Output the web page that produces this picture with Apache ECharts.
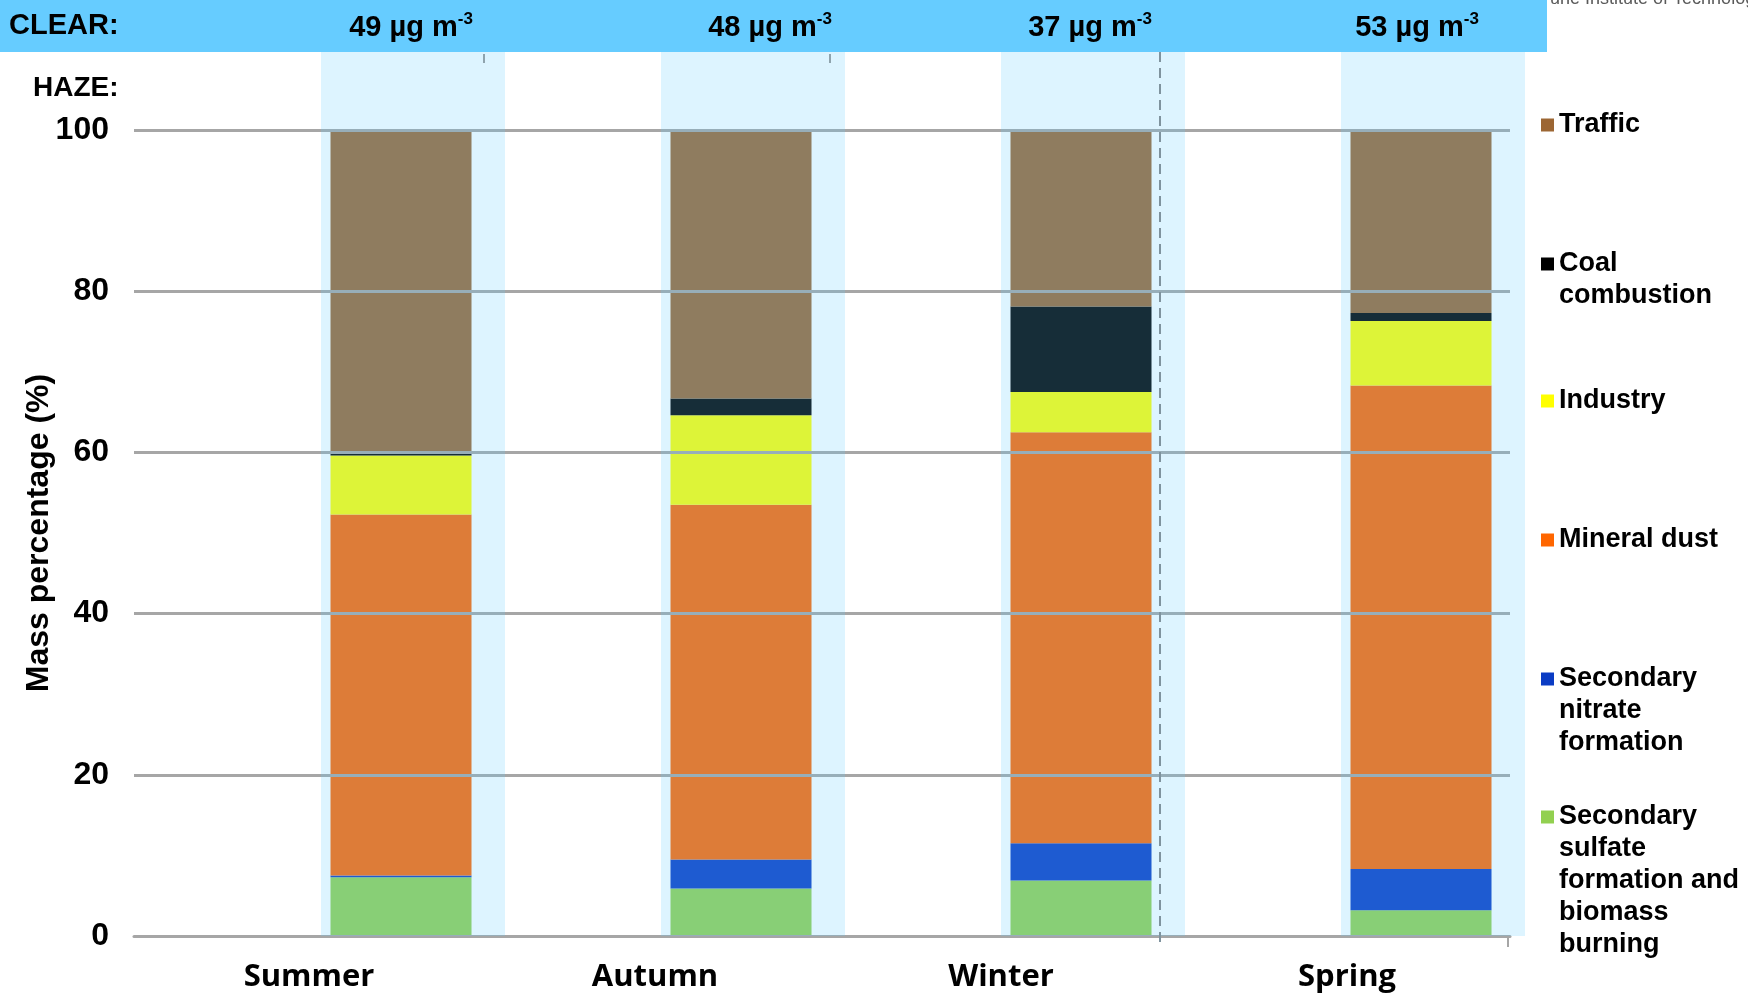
<!DOCTYPE html>
<html>
<head>
<meta charset="utf-8">
<script src="https://cdn.jsdelivr.net/npm/echarts@6/dist/echarts.min.js"></script>
<style>
  html, body { margin: 0; padding: 0; background: #ffffff; }
  #chart { width: 1748px; height: 995px; }
</style>
</head>
<body>
<div id="chart"></div>
<script>
// Seasons and PM mass concentration on clear days
const seasons = ['Summer', 'Autumn', 'Winter', 'Spring'];
const clearConcentration = [49, 48, 37, 53];

// Haze-day source contributions (mass percentage), bottom of stack first
const sulfateBiomass = [7.3, 5.9, 6.9, 3.2];
const nitrate = [0.2, 3.6, 4.6, 5.1];
const mineralDust = [44.8, 44.0, 51.0, 60.0];
const industry = [7.3, 11.1, 5.0, 8.0];
const coal = [0.3, 2.1, 10.6, 1.0];
const traffic = [40.1, 33.3, 21.9, 22.7];

// Value axis ticks
const yTicks = [0, 20, 40, 60, 80, 100];

const sources = [
  { name: 'Secondary sulfate formation and biomass burning', lines: ['Secondary', 'sulfate', 'formation and', 'biomass', 'burning'], data: sulfateBiomass, color: '#92D050', y: 817 },
  { name: 'Secondary nitrate formation', lines: ['Secondary', 'nitrate', 'formation'], data: nitrate, color: '#0B3CC4', y: 679 },
  { name: 'Mineral dust', lines: ['Mineral dust'], data: mineralDust, color: '#FF6600', y: 540 },
  { name: 'Industry', lines: ['Industry'], data: industry, color: '#FFFF00', y: 401 },
  { name: 'Coal combustion', lines: ['Coal', 'combustion'], data: coal, color: '#000000', y: 264 },
  { name: 'Traffic', lines: ['Traffic'], data: traffic, color: '#9C6633', y: 125 }
];

const FONT = 'Liberation Sans, Arial, sans-serif';
const LEG_LINE = 32;
const GRID_GRAY = '#A6A6A6';

const chart = echarts.init(document.getElementById('chart'), null, { renderer: 'canvas' });

// Each legend entry is its own component so the first lines sit on an even rhythm.
// Leading blank lines keep the swatch level with the first text line.
const legends = sources.map(s => {
  const n = s.lines.length;
  const blockH = (2 * n - 1) * LEG_LINE;
  return {
    orient: 'vertical',
    left: 1541,
    top: s.y - blockH / 2,
    padding: 0,
    itemWidth: 13,
    itemHeight: 13,
    icon: 'rect',
    selectedMode: false,
    data: [{ name: s.name, itemStyle: { color: s.color } }],
    formatter: () => '\n'.repeat(n - 1) + s.lines.join('\n'),
    textStyle: { fontFamily: FONT, fontWeight: 'bold', fontSize: 27, color: '#000', lineHeight: LEG_LINE }
  };
});

const hazeSeries = sources.map(s => ({
  name: s.name,
  type: 'bar',
  stack: 'haze',
  xAxisIndex: 1,
  yAxisIndex: 1,
  barWidth: 141,
  z: 2,
  itemStyle: { color: s.color },
  emphasis: { disabled: true },
  data: s.data
}));

// Translucent "clear" panels laid over each season column
const clearPanel = {
  name: 'clear panel',
  type: 'bar',
  xAxisIndex: 2,
  yAxisIndex: 2,
  barWidth: 184,
  z: 5,
  silent: true,
  itemStyle: { color: 'rgba(102,204,255,0.22)' },
  data: seasons.map(() => 1)
};

const clearLabelX = [411, 770, 1090, 1417];
const graphics = [
  // partial credit line behind the top banner
  { type: 'text', x: 1503, y: 8, z: 8, silent: true,
    style: { text: 'Karlsruhe Institute of Technology', font: '18px ' + FONT, fill: '#5a5a5a', verticalAlign: 'bottom', align: 'left' } },
  { type: 'rect', shape: { x: 0, y: 0, width: 1547, height: 52 }, style: { fill: '#66CCFF' }, z: 10, silent: true },
  { type: 'text', x: 9, y: 26, z: 11, silent: true,
    style: { text: 'CLEAR:', font: 'bold 29px ' + FONT, fill: '#000', verticalAlign: 'middle', align: 'left' } },
  { type: 'text', x: 33, y: 88, z: 11, silent: true,
    style: { text: 'HAZE:', font: 'bold 28px ' + FONT, fill: '#000', verticalAlign: 'middle', align: 'left' } },
  // dashed divider
  { type: 'line', shape: { x1: 1160, y1: 52, x2: 1160, y2: 942 }, z: 6, silent: true,
    style: { stroke: '#7F939E', lineWidth: 2, lineDash: [10, 6] } },
  // small axis ticks
  { type: 'line', shape: { x1: 484, y1: 54, x2: 484, y2: 63 }, z: 6, silent: true, style: { stroke: '#8FA3AD', lineWidth: 2 } },
  { type: 'line', shape: { x1: 830, y1: 54, x2: 830, y2: 63 }, z: 6, silent: true, style: { stroke: '#8FA3AD', lineWidth: 2 } },
  { type: 'line', shape: { x1: 1508, y1: 936, x2: 1508, y2: 947 }, z: 6, silent: true, style: { stroke: GRID_GRAY, lineWidth: 2 } }
].concat(clearConcentration.map((c, i) => ({
  type: 'text', x: clearLabelX[i], y: 25, z: 11, silent: true,
  style: {
    text: '{v|' + c + ' µg m}{s|-3}',
    align: 'center', verticalAlign: 'middle',
    rich: {
      v: { font: 'bold 29px ' + FONT, fill: '#000', verticalAlign: 'bottom', lineHeight: 34 },
      s: { font: 'bold 17px ' + FONT, fill: '#000', verticalAlign: 'bottom', lineHeight: 34, padding: [0, 0, 14, 0] }
    }
  }
})));

const option = {
  backgroundColor: '#ffffff',
  animation: false,
  grid: [
    { left: 134, right: 238, top: 130, bottom: 59 },   // value axis, gridlines, baseline
    { left: 231, right: 157, top: 130, bottom: 59 },   // haze bars
    { left: 243, right: 145, top: 52, bottom: 59 },    // clear panels
    { left: 136, right: 228, top: 130, bottom: 59 }    // season labels
  ],
  xAxis: [
    {
      gridIndex: 0, type: 'category', data: seasons, boundaryGap: true, z: 3,
      axisLine: { show: true, lineStyle: { color: GRID_GRAY, width: 3 } },
      axisTick: { show: false },
      axisLabel: { show: false }
    },
    { gridIndex: 1, type: 'category', data: seasons, show: false },
    { gridIndex: 2, type: 'category', data: seasons, show: false },
    {
      gridIndex: 3, type: 'category', data: seasons, boundaryGap: true,
      axisLine: { show: false }, axisTick: { show: false },
      axisLabel: { margin: 26, fontFamily: 'Open Sans, Noto Sans, sans-serif', fontWeight: 'bold', fontSize: 31, color: '#000' }
    }
  ],
  yAxis: [
    {
      gridIndex: 0, type: 'value', z: 3,
      min: yTicks[0], max: yTicks[yTicks.length - 1], interval: yTicks[1] - yTicks[0],
      name: 'Mass percentage (%)', nameLocation: 'middle', nameGap: 79, nameMoveOverlap: false,
      nameTextStyle: { fontFamily: FONT, fontWeight: 'bold', fontSize: 32, color: '#000' },
      axisLine: { show: false }, axisTick: { show: false },
      axisLabel: { margin: 25, fontFamily: FONT, fontWeight: 'bold', fontSize: 32, color: '#000' },
      splitLine: { show: true, lineStyle: { color: GRID_GRAY, width: 3 } }
    },
    { gridIndex: 1, type: 'value', min: yTicks[0], max: yTicks[yTicks.length - 1], show: false, splitLine: { show: false } },
    { gridIndex: 2, type: 'value', min: 0, max: 1, show: false, splitLine: { show: false } },
    { gridIndex: 3, type: 'value', min: 0, max: 1, show: false, splitLine: { show: false } }
  ],
  legend: legends,
  series: hazeSeries.concat([clearPanel]),
  graphic: graphics
};

chart.setOption(option);
</script>
</body>
</html>
